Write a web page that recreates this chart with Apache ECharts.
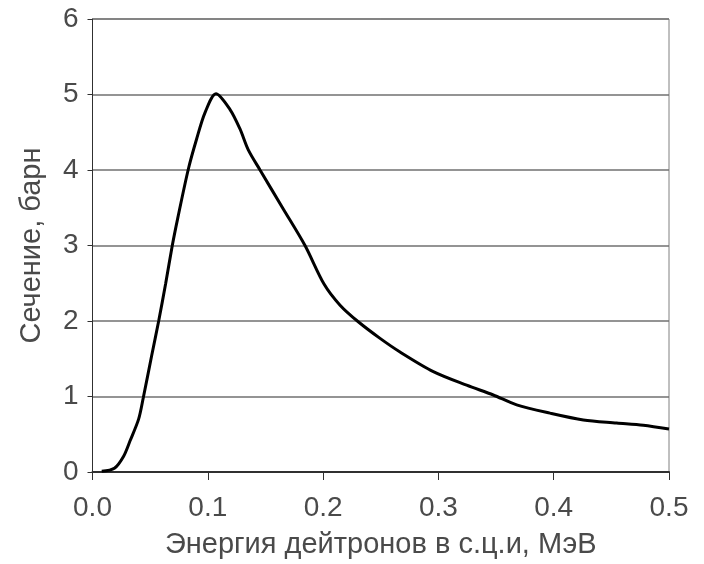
<!DOCTYPE html>
<html>
<head>
<meta charset="utf-8">
<script src="https://cdn.jsdelivr.net/npm/echarts@6/dist/echarts.min.js"></script>
<style>
html,body{margin:0;padding:0;background:#fff;}
#chart{width:704px;height:564px;}
</style>
</head>
<body>
<div id="chart"></div>
<script>
const energy = [0.008,0.019,0.027,0.0325,0.040,0.044,0.0513,0.0574,0.0635,0.0692,0.0739,0.0831,0.0903,0.0976,0.1071,0.1193,0.128,0.135,0.1453,0.1648,0.1843,0.2008,0.2147,0.2305,0.2494,0.2667,0.2956,0.3245,0.3476,0.3679,0.3968,0.4257,0.4546,0.4777,0.5];
const crossSection = [0.01,0.05,0.21,0.41,0.70,0.98,1.54,2.0,2.5,3.0,3.36,4.01,4.41,4.76,5.01,4.80,4.54,4.27,4.0,3.5,3.0,2.49,2.21,1.99,1.77,1.59,1.33,1.15,1.02,0.89,0.78,0.69,0.65,0.62,0.57];
const xTitle = 'Энергия дейтронов в с.ц.и, МэВ';
const yTitle = 'Сечение, барн';

const font = '"Liberation Sans", Arial, sans-serif';
const textColor = '#4a4a4a';
const chart = echarts.init(document.getElementById('chart'), null, {renderer:'canvas'});
chart.setOption({
  animation:false,
  backgroundColor:'#fff',
  grid:{left:92.5,right:35,top:19,bottom:90,show:true,borderColor:'#808080',borderWidth:1,backgroundColor:'transparent'},
  xAxis:{
    type:'value',min:0,max:0.5,interval:0.1,
    name:xTitle,nameLocation:'middle',nameGap:58,
    nameTextStyle:{fontFamily:font,fontSize:29,color:textColor},
    axisLine:{show:true,onZero:false,lineStyle:{color:'#303030',width:2}},
    axisTick:{show:true,inside:false,length:8,lineStyle:{color:'#303030',width:1}},
    axisLabel:{margin:22,fontFamily:font,fontSize:28,color:textColor,formatter:v=>v.toFixed(1)},
    splitLine:{show:false}
  },
  yAxis:{
    type:'value',min:0,max:6,interval:1,
    name:yTitle,nameLocation:'middle',nameGap:46,
    nameTextStyle:{fontFamily:font,fontSize:29,color:textColor},
    axisLine:{show:true,onZero:false,lineStyle:{color:'#303030',width:1}},
    axisTick:{show:true,inside:false,length:5,lineStyle:{color:'#303030',width:1}},
    axisLabel:{margin:14,fontFamily:font,fontSize:28,color:textColor},
    splitLine:{show:true,lineStyle:{color:'#707070',width:1.5}}
  },
  series:[{
    type:'line',
    data:energy.map((e,i)=>[e,crossSection[i]]),
    smooth:0.3,
    showSymbol:false,
    lineStyle:{color:'#000',width:3},
    clip:true
  }]
});
</script>
</body>
</html>
